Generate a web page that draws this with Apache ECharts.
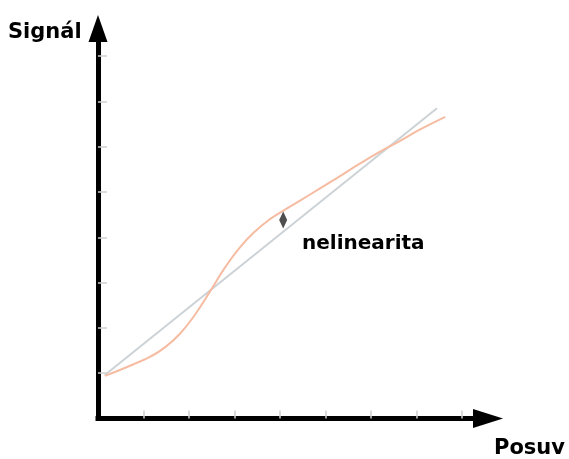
<!DOCTYPE html>
<html>
<head>
<meta charset="utf-8">
<script src="https://cdn.jsdelivr.net/npm/echarts@6/dist/echarts.min.js"></script>
<style>html,body{margin:0;padding:0;background:#fff;}#c{width:569px;height:459px;}</style>
</head>
<body>
<div id="c"></div>
<script>
// Data (axis units = tick spacings)
var idealLine = [[0.15, 0.96], [7.45, 6.85]];
var realCurve = [
  [0.15, 0.94], [0.48, 1.07], [0.81, 1.21], [1.14, 1.36], [1.47, 1.57],
  [1.80, 1.87], [2.13, 2.29], [2.46, 2.80], [2.79, 3.33], [3.12, 3.78],
  [3.45, 4.13], [3.78, 4.40], [4.11, 4.61], [4.44, 4.81], [4.88, 5.08],
  [5.32, 5.35], [5.76, 5.63], [6.20, 5.89], [6.64, 6.13], [7.08, 6.38],
  [7.63, 6.66]
];
var markerPoint = [[4.07, 4.38]];
var xTicks = [1, 2, 3, 4, 5, 6, 7, 8];
var yTicks = [1, 2, 3, 4, 5, 6, 7, 8];
var yTitle = 'Signál';
var xTitle = 'Posuv';
var noteText = 'nelinearita';

var chart = echarts.init(document.getElementById('c'), null, {renderer: 'canvas'});
var textFont = 'bold 21px "DejaVu Sans"';
chart.setOption({
  animation: false,
  backgroundColor: '#ffffff',
  grid: {left: 98, right: 81, top: 28.5, bottom: 40.5, containLabel: false},
  xAxis: {
    type: 'value', min: 0, max: 390 / 45.5, interval: 1,
    splitLine: {show: false},
    axisLabel: {show: false},
    axisTick: {show: true, inside: true, length: 8, customValues: xTicks, lineStyle: {color: '#cfcfcf', width: 1.5}},
    axisLine: {show: true, symbol: ['none', 'triangle'], symbolSize: [19, 30], lineStyle: {color: '#000', width: 5, cap: 'square'}}
  },
  yAxis: {
    type: 'value', min: 0, max: 390 / 45.3, interval: 1,
    splitLine: {show: false},
    axisLabel: {show: false},
    axisTick: {show: true, inside: true, length: 9, customValues: yTicks, lineStyle: {color: '#cfcfcf', width: 1.5}},
    axisLine: {show: true, symbol: ['none', 'triangle'], symbolSize: [19, 27], lineStyle: {color: '#000', width: 5, cap: 'square'}}
  },
  series: [
    {type: 'line', data: idealLine, showSymbol: false, symbol: 'none', lineStyle: {color: '#ccd2d5', width: 2}, z: 2},
    {type: 'line', data: realCurve, smooth: 0.5, showSymbol: false, symbol: 'none', lineStyle: {color: '#f6bca2', width: 2}, z: 3},
    {type: 'scatter', data: markerPoint, symbol: 'diamond', symbolSize: [8, 17], itemStyle: {color: '#222'}, z: 4}
  ],
  graphic: [
    {type: 'text', left: 8, top: 22, style: {text: yTitle, font: textFont, fill: '#000'}},
    {type: 'text', left: 494, top: 438, style: {text: xTitle, font: textFont, fill: '#000'}},
    {type: 'text', left: 302, top: 234, style: {text: noteText, font: 'bold 20px "DejaVu Sans"', fill: '#000'}}
  ]
});
</script>
</body>
</html>
